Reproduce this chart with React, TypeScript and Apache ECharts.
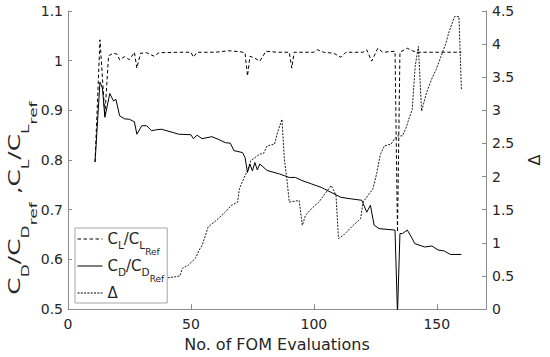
import React, { useEffect, useRef } from "react";
import * as echarts from "echarts";

const FONT = "DejaVu Sans";
const TEXT = "#262626";
const AXIS = "#8c8c8c";

// x axis ticks / ranges
const xTicks = [0, 50, 100, 150];

// C_D / C_D_Ref (solid, left axis)
const cdX = [11, 13, 14, 15, 17, 18.5, 19.5, 21, 23, 25, 27, 28, 30, 32, 34, 36, 38, 43, 45, 50, 51, 52.5, 54.5, 58.5, 61, 64, 66, 67.5, 71, 72, 73, 74, 75, 76, 77, 78, 81, 86, 90, 92.5, 95, 99, 103, 107, 111, 115, 119.5, 121.5, 123, 124.5, 126.5, 133, 134, 135, 136, 138, 140, 141, 145, 148, 150.5, 153, 155.5, 160];
const cdY = [0.796, 0.957, 0.945, 0.886, 0.934, 0.919, 0.922, 0.889, 0.883, 0.882, 0.877, 0.852, 0.869, 0.869, 0.859, 0.861, 0.862, 0.855, 0.852, 0.851, 0.843, 0.85, 0.843, 0.847, 0.842, 0.835, 0.834, 0.819, 0.815, 0.805, 0.775, 0.792, 0.778, 0.795, 0.78, 0.792, 0.779, 0.772, 0.765, 0.765, 0.759, 0.752, 0.745, 0.735, 0.725, 0.722, 0.719, 0.695, 0.709, 0.669, 0.662, 0.659, 0.49, 0.652, 0.652, 0.659, 0.642, 0.632, 0.625, 0.627, 0.619, 0.617, 0.61, 0.61];

// C_L / C_L_Ref (dashed, left axis)
const clX = [11, 13, 15, 16.5, 18.5, 20, 21, 23, 25, 27, 28, 29.5, 32, 35, 37, 45, 50, 51, 52.5, 60, 65.5, 70, 72, 73, 74, 76, 78, 80.5, 85, 90, 91, 92, 100, 101.5, 104, 108, 111, 113, 120, 121.5, 123.5, 126, 128, 133, 134, 135, 138, 140, 142, 160];
const clY = [0.796, 1.042, 0.89, 1.01, 1.015, 1.013, 1.002, 1.008, 1.002, 1.017, 0.985, 1.015, 1.016, 1.009, 1.016, 1.017, 1.017, 1.007, 1.017, 1.017, 1.02, 1.018, 1.016, 0.969, 1.009, 1.005, 0.999, 1.019, 1.017, 1.017, 0.985, 1.017, 1.017, 1.022, 1.017, 1.015, 1.007, 1.017, 1.017, 1.022, 0.999, 1.025, 1.017, 1.019, 0.655, 1.017, 1.025, 1.02, 1.017, 1.017];

// Delta (dash-dot, right axis)
const dX = [11, 20, 28, 37.5, 40, 44, 45.5, 46.5, 49, 52, 53.3, 54.6, 57, 60, 62.5, 64, 66.4, 69, 69.7, 71.7, 73, 74.3, 78, 79.5, 81, 84, 85, 87, 88, 89, 90, 94, 95.3, 96.6, 99, 102, 104.5, 107, 108, 109, 110, 112, 116, 119, 120, 121.5, 124, 125.5, 127, 128.7, 131.4, 132.7, 134, 136, 137.3, 138.6, 140, 141.2, 142.5, 143.8, 145.8, 147.8, 149.7, 151.7, 153.7, 155, 157.2, 159, 160];
const dY = [0.2, 0.24, 0.3, 0.39, 0.47, 0.49, 0.5, 0.615, 0.665, 0.775, 0.89, 0.965, 1.24, 1.33, 1.415, 1.465, 1.565, 1.615, 1.815, 1.99, 2.09, 2.24, 2.34, 2.35, 2.465, 2.49, 2.64, 2.865, 2.265, 1.965, 1.615, 1.64, 1.265, 1.415, 1.515, 1.615, 1.74, 1.865, 1.8, 1.715, 1.065, 1.115, 1.265, 1.365, 1.615, 1.69, 1.815, 2.04, 2.33, 2.465, 2.49, 2.565, 2.615, 2.615, 2.715, 2.865, 3.015, 3.665, 3.965, 2.99, 3.265, 3.465, 3.615, 3.815, 4.015, 4.19, 4.415, 4.415, 3.315];

const zip = (xs: number[], ys: number[]) => xs.map((x, i) => [x, ys[i]]);

const legendLabels: Record<string, string> = {
  CL: "{m|C}{s|L}{m|/C}{s|L}{r|Ref}",
  CD: "{m|C}{s|D}{m|/C}{s|D}{r|Ref}",
  "Δ": "{m|Δ}",
};

const yTitle = "{m|C}{s|D}{m|/C}{s|D}{r|ref}{m| ,C}{s|L}{m|/C}{s|L}{r|ref}";

export default function App() {
  const ref = useRef<HTMLDivElement>(null);
  useEffect(() => {
    if (!ref.current) return;
    const chart = echarts.init(ref.current, undefined, { renderer: "svg" });
    const legendRich = {
      m: { fontSize: 15, lineHeight: 16, verticalAlign: "top", padding: [0, 0, 0, 0], fontFamily: FONT, color: TEXT },
      s: { fontSize: 10.5, lineHeight: 12, verticalAlign: "top", padding: [8, 0, 0, 0], fontFamily: FONT, color: TEXT },
      r: { fontSize: 9, lineHeight: 10, verticalAlign: "top", padding: [16, 0, 0, 0], fontFamily: FONT, color: TEXT },
    };
    const yRich = {
      m: { fontSize: 16, lineHeight: 16, verticalAlign: "top", padding: [0, 0, 0, 0], fontFamily: FONT, fill: TEXT, color: TEXT },
      s: { fontSize: 11, lineHeight: 12, verticalAlign: "top", padding: [13, 0, 0, 0], fontFamily: FONT, fill: TEXT, color: TEXT },
      r: { fontSize: 11, lineHeight: 12, verticalAlign: "top", padding: [21, 0, 0, 0], fontFamily: FONT, fill: TEXT, color: TEXT },
    };
    chart.setOption({
      animation: false,
      backgroundColor: "#fff",
      textStyle: { fontFamily: FONT },
      grid: { left: 68, right: 51, top: 11, bottom: 46 },
      legend: {
        orient: "vertical",
        left: 75,
        top: 228,
        itemWidth: 25,
        itemHeight: 12,
        itemGap: 2,
        padding: [3, 3, 3, 2],
        backgroundColor: "#fff",
        borderColor: "#a6a6a6",
        borderWidth: 1,
        borderRadius: 0,
        selectedMode: false,
        data: ["CL", "CD", "Δ"],
        formatter: (n: string) => legendLabels[n] ?? n,
        itemStyle: { color: "transparent", borderColor: "transparent", borderWidth: 0, opacity: 0 },
        lineStyle: { width: 1 },
        textStyle: { fontFamily: FONT, color: TEXT, rich: legendRich },
      },
      xAxis: {
        type: "value",
        min: 0,
        max: 170,
        interval: 50,
        name: "No. of FOM Evaluations",
        nameLocation: "middle",
        nameGap: 25,
        nameTextStyle: { fontSize: 16, color: TEXT, fontFamily: FONT },
        axisLine: { show: true, lineStyle: { color: AXIS, width: 1 } },
        axisTick: { show: true, inside: true, length: 5, lineStyle: { color: AXIS } },
        axisLabel: {
          fontSize: 14,
          color: TEXT,
          fontFamily: FONT,
          margin: 8,
          formatter: (v: number) => (xTicks.includes(v) ? String(v) : ""),
        },
        splitLine: { show: false },
      },
      yAxis: [
        {
          type: "value",
          position: "left",
          min: 0.5,
          max: 1.1,
          interval: 0.1,
          axisLine: { show: true, lineStyle: { color: AXIS, width: 1 } },
          axisTick: { show: true, inside: true, length: 4, lineStyle: { color: AXIS } },
          axisLabel: { fontSize: 14, color: TEXT, fontFamily: FONT, margin: 5 },
          splitLine: { show: false },
        },
        {
          type: "value",
          position: "right",
          min: 0,
          max: 4.5,
          interval: 0.5,
          name: "Δ",
          nameLocation: "middle",
          nameRotate: 90,
          nameGap: 40,
          nameTextStyle: { fontSize: 16, color: TEXT, fontFamily: FONT },
          axisLine: { show: true, lineStyle: { color: AXIS, width: 1 } },
          axisTick: { show: true, inside: true, length: 4, lineStyle: { color: AXIS } },
          axisLabel: { fontSize: 14, color: TEXT, fontFamily: FONT, margin: 6 },
          splitLine: { show: false },
        },
      ],
      series: [
        {
          name: "CL",
          type: "line",
          yAxisIndex: 0,
          data: zip(clX, clY),
          symbol: "none",
          color: "#000",
          lineStyle: { color: "#000", width: 1, type: [3.5, 2.5] },
          z: 3,
        },
        {
          name: "CD",
          type: "line",
          yAxisIndex: 0,
          data: zip(cdX, cdY),
          symbol: "none",
          color: "#000",
          lineStyle: { color: "#000", width: 1 },
          z: 3,
        },
        {
          name: "Δ",
          type: "line",
          yAxisIndex: 1,
          data: zip(dX, dY),
          symbol: "none",
          color: "#000",
          lineStyle: { color: "#000", width: 0.9, type: [2, 1.3] },
          z: 2,
        },
      ],
      graphic: [
        {
          type: "text",
          x: 6.5,
          y: 198,
          rotation: Math.PI / 2,
          scaleX: 1.55,
          style: {
            text: yTitle,
            rich: yRich,
            align: "center",
            verticalAlign: "top",
            fill: TEXT,
            fontFamily: FONT,
          },
        },
      ],
    });
    return () => chart.dispose();
  }, []);
  return (
    <div
      ref={ref}
      style={{ position: "absolute", left: 0, top: 0, width: 550, height: 357 }}
    />
  );
}
